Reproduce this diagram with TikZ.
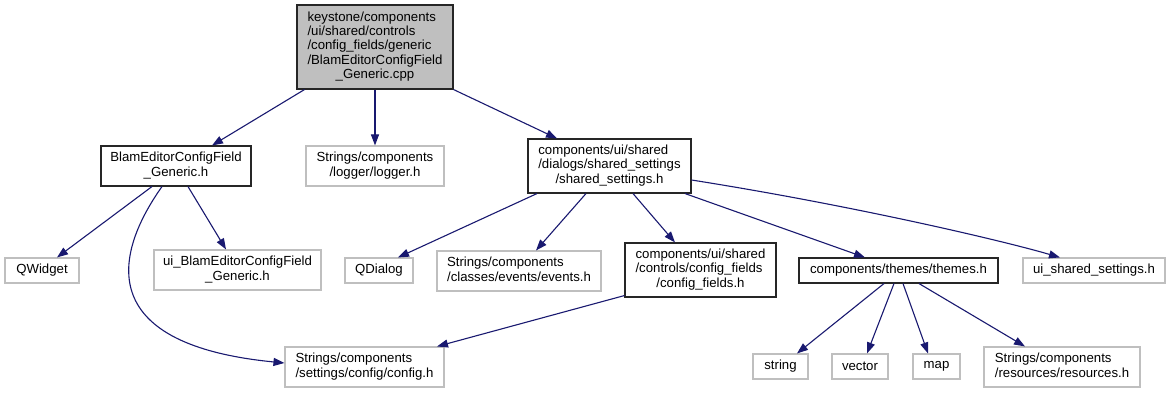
\documentclass[tikz,border=0pt]{standalone}
\usepackage{fontspec}
\setmainfont{Liberation Sans}
\usetikzlibrary{arrows.meta}
\definecolor{midnight}{HTML}{191970}
\definecolor{greyseventyfive}{HTML}{BFBFBF}
\newcommand{\lastln}[1]{\multicolumn{1}{@{}c@{}}{#1}}
\begin{document}
\begin{tikzpicture}[x=1pt,y=-1pt,
  box/.style={rectangle, inner sep=0pt, line width=1.1pt, font=\fontsize{13.2}{14.4}\selectfont, text=black},
  linked/.style={box, draw=black!85},
  plain/.style={box, draw=greyseventyfive},
  rootbox/.style={box, draw=black!85, fill=greyseventyfive},
  edge/.style={draw=midnight, line width=1.1pt, -{Triangle[length=11pt,width=8pt,fill=midnight]}}]
\useasboundingbox[fill=white] (0,0) rectangle (1171,393);

\node[rootbox, minimum width=156, minimum height=84] (root) at (375,47)
  {\begin{tabular}{@{}l@{}}keystone/components\\/ui/shared/controls\\/config\_fields/generic\\/BlamEditorConfigField\\\lastln{\_Generic.cpp}\end{tabular}};
\node[linked, minimum width=150, minimum height=40] (blam) at (176,166)
  {\begin{tabular}{@{}l@{}}BlamEditorConfigField\\\lastln{\_Generic.h}\end{tabular}};
\node[plain, minimum width=138, minimum height=40] (logger) at (375,166)
  {\begin{tabular}{@{}l@{}}Strings/components\\\lastln{/logger/logger.h}\end{tabular}};
\node[linked, minimum width=163, minimum height=54] (shared) at (609.5,166)
  {\begin{tabular}{@{}l@{}}components/ui/shared\\/dialogs/shared\_settings\\\lastln{/shared\_settings.h}\end{tabular}};
\node[plain, minimum width=74, minimum height=25] (qwidget) at (42,270.5) {QWidget};
\node[plain, minimum width=167, minimum height=40] (uiblam) at (237.5,270)
  {\begin{tabular}{@{}l@{}}ui\_BlamEditorConfigField\\\lastln{\_Generic.h}\end{tabular}};
\node[plain, minimum width=68, minimum height=25] (qdialog) at (379,270.5) {QDialog};
\node[plain, minimum width=164, minimum height=40] (events) at (519,271)
  {\begin{tabular}{@{}l@{}}Strings/components\\\lastln{/classes/events/events.h}\end{tabular}};
\node[linked, minimum width=151, minimum height=54] (cfields) at (700.5,270)
  {\begin{tabular}{@{}l@{}}components/ui/shared\\/controls/config\_fields\\\lastln{/config\_fields.h}\end{tabular}};
\node[linked, minimum width=199, minimum height=25] (themes) at (898.5,270.5) {components/themes/themes.h};
\node[plain, minimum width=142, minimum height=25] (uishared) at (1094,270.5) {ui\_shared\_settings.h};
\node[plain, minimum width=55, minimum height=25] (string) at (780.5,366.5) {string};
\node[plain, minimum width=56, minimum height=25] (vector) at (860,366.5) {vector};
\node[plain, minimum width=47, minimum height=25] (map) at (936.5,366.5) {map};
\node[plain, minimum width=156, minimum height=40] (resources) at (1062,367)
  {\begin{tabular}{@{}l@{}}Strings/components\\\lastln{/resources/resources.h}\end{tabular}};
\node[plain, minimum width=159, minimum height=40] (config) at (364.5,367)
  {\begin{tabular}{@{}l@{}}Strings/components\\\lastln{/settings/config/config.h}\end{tabular}};

\draw[edge] ([xshift=-70.5]root.south) -- ([xshift=36]blam.north);
\draw[edge] (root.south) -- (logger.north);
\draw[edge] (root.south east) -- ([xshift=-52.5]shared.north);
\draw[edge] ([xshift=-24]blam.south) -- ([xshift=15]qwidget.north);
\draw[edge] ([xshift=12]blam.south) -- ([xshift=-11.5]uiblam.north);
\draw[edge] ([xshift=-14]blam.south) .. controls (110,260) and (100,345) .. ([yshift=4]config.west);
\draw[edge] ([xshift=-72.5]shared.south) -- ([xshift=19]qdialog.north);
\draw[edge] ([xshift=-23.5]shared.south) -- ([xshift=17]events.north);
\draw[edge] ([xshift=23.5]shared.south) -- ([xshift=-25.5]cfields.north);
\draw[edge] ([xshift=75.5]shared.south) -- ([xshift=-33.5]themes.north);
\draw[edge] ([yshift=-14]shared.east) .. controls (850,205) and (1000,240) .. ([xshift=-34]uishared.north);
\draw[edge] ([yshift=2]cfields.south west) -- ([xshift=72.5]config.north);
\draw[edge] ([xshift=-14.5]themes.south) -- ([xshift=16.5]string.north);
\draw[edge] ([xshift=-4.5]themes.south) -- ([xshift=7]vector.north);
\draw[edge] ([xshift=4.5]themes.south) -- ([xshift=-8.5]map.north);
\draw[edge] ([xshift=20.5]themes.south) -- ([xshift=-37]resources.north);
\end{tikzpicture}
\end{document}
